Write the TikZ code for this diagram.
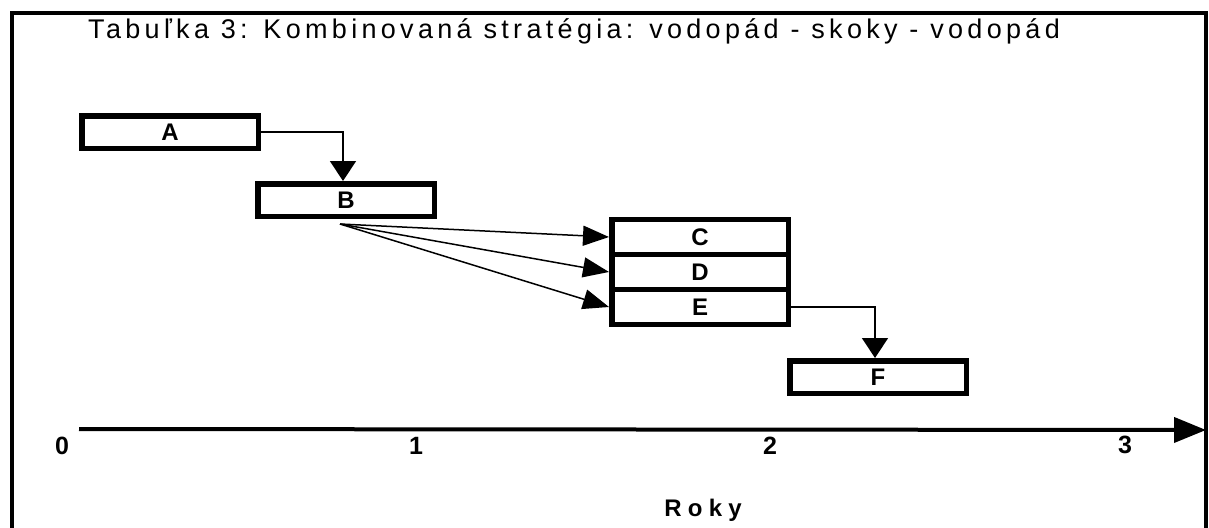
\documentclass[tikz,border=0pt]{standalone}
\usepackage{fontspec}
\setmainfont{Liberation Sans}
\newfontfamily\titlefont[LetterSpace=16]{Liberation Sans}
\newfontfamily\rokyfont[LetterSpace=26]{Liberation Sans}
\usetikzlibrary{arrows.meta}
\begin{document}
\begin{tikzpicture}[x=1pt,y=-1pt,
  phase/.style={draw,line width=5.5pt,inner sep=0pt,minimum width=176.5pt,
    minimum height=32.5pt,font=\fontsize{24}{24}\selectfont\bfseries},
  stacked/.style={phase,minimum height=35pt},
  conn/.style={line width=1.5pt,-{Triangle[length=20pt,width=26pt]}},
  fan/.style={line width=1.5pt,-{Triangle[length=26pt,width=20pt]}},
  tick/.style={font=\fontsize{25}{25}\selectfont\bfseries},
]
\useasboundingbox (0,0) rectangle (1209,527);
\clip (0,0) rectangle (1209,527);

% outer frame, open at the bottom edge of the page
\draw[line width=4pt] (12,560) -- (12,13) -- (1206,13) -- (1206,560);

% caption
\node[anchor=base west,inner sep=0pt,font=\titlefont\fontsize{27}{27}\selectfont]
  (title) at (88,38) {Tabuľka 3: Kombinovaná stratégia: vodopád - skoky - vodopád};

% phases
\node[phase] (A) at (170,132) {A};
\node[phase] (B) at (346,200) {B};
\node[stacked] (C) at (700,237) {C};
\node[stacked] (D) at (700,272) {D};
\node[stacked] (E) at (700,307) {E};
\node[phase] (F) at (878,377) {F};

% waterfall hand-overs
\draw[conn] (A.east) -| ([xshift=-3pt]B.north);
\draw[conn] (E.east) -| ([xshift=-3pt]F.north);

% parallel jump from B
\coordinate (bfan) at (340,224);
\draw[fan] (bfan) -- (C.west);
\draw[fan] (bfan) -- (D.west);
\draw[fan] (bfan) -- (E.west);

% time axis
\coordinate (ax0) at (79,429);
\coordinate (ax1) at (1206,430);
\draw[line width=4pt,-{Triangle[length=32pt,width=25pt]}] (ax0) -- (ax1);
\node[tick] (t0) at (62,446) {0};
\node[tick] (t1) at (416,446) {1};
\node[tick] (t2) at (770,446) {2};
\node[tick] (t3) at (1125,445) {3};
\node[font=\rokyfont\fontsize{24}{24}\selectfont\bfseries] (roky) at (703,510) {Roky};
\end{tikzpicture}
\end{document}
